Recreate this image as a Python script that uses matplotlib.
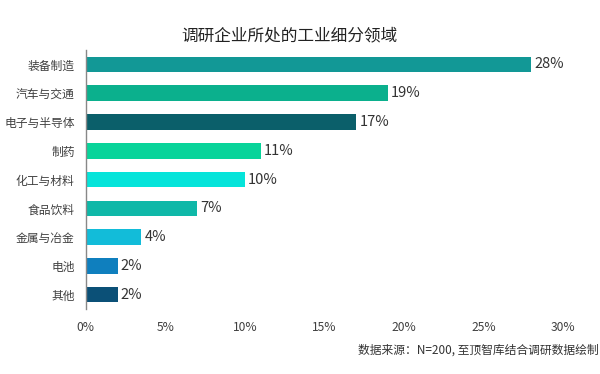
import matplotlib
matplotlib.use("Agg")
import matplotlib.pyplot as plt

plt.rcParams['font.family'] = ['Noto Sans CJK SC', 'DejaVu Sans']

categories = ["装备制造", "汽车与交通", "电子与半导体", "制药", "化工与材料",
              "食品饮料", "金属与冶金", "电池", "其他"]
values = [28, 19, 17, 11, 10, 7, 3.5, 2, 2]
value_labels = ["28%", "19%", "17%", "11%", "10%", "7%", "4%", "2%", "2%"]
colors = ["#129896", "#0bb08d", "#0b5f6a", "#08d49a", "#06e4da",
          "#0fb8a8", "#12bcd9", "#0f7fbe", "#0b5077"]
xticks = [0, 5, 10, 15, 20, 25, 30]

fig = plt.figure(figsize=(6, 3.74), dpi=100)
ax = fig.add_axes([0.143, 0.174, 0.795, 0.692])

y = list(range(len(categories)))
ax.barh(y, values, height=0.54, color=colors)
ax.set_ylim(len(categories) - 0.5, -0.5)
ax.set_xlim(0, 30)

for yi, v, lab in zip(y, values, value_labels):
    ax.text(v + 0.2, yi, lab, va='center', ha='left', fontsize=10.5, color='#333333')

ax.set_yticks(y)
ax.set_yticklabels(categories, fontsize=8.5, color='#404040')
ax.set_xticks(xticks)
ax.set_xticklabels([f"{t}%" for t in xticks], fontsize=8.7, color='#404040')
ax.tick_params(axis='y', length=0, pad=8)
ax.tick_params(axis='x', length=0, pad=9)

for s in ['top', 'right', 'bottom']:
    ax.spines[s].set_visible(False)
ax.spines['left'].set_color('#888888')
ax.spines['left'].set_linewidth(1.0)

fig.text(0.483, 0.905, "调研企业所处的工业细分领域", ha='center', va='center',
         fontsize=12, color='#222222')
fig.text(0.997, 0.064, "数据来源：N=200, 至顶智库结合调研数据绘制", ha='right',
         va='center', fontsize=8.5, color='#333333')

fig.savefig("out.png", dpi=100, facecolor='white')
